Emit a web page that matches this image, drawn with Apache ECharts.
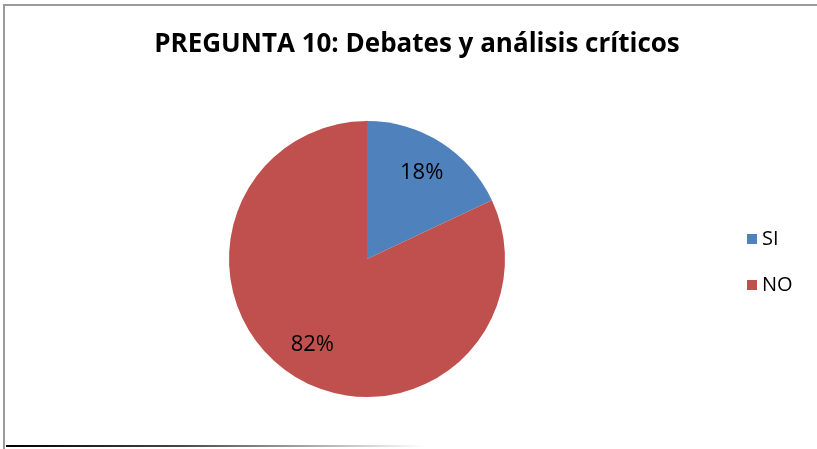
<!DOCTYPE html>
<html>
<head>
<meta charset="utf-8">
<script src="https://cdn.jsdelivr.net/npm/echarts@6/dist/echarts.min.js"></script>
<style>
  html, body { margin: 0; padding: 0; background: #fff; }
  #frame {
    position: absolute; left: 3px; top: 4px; width: 812px; height: 460px;
    border-left: 2px solid #9a9a9a; border-top: 2px solid #9a9a9a;
  }
  #bottomLine {
    position: absolute; left: 6px; top: 445px; width: 420px; height: 2px;
    background: linear-gradient(to right, #000 0%, #444 40%, #fff 100%);
  }
  #main { position: absolute; left: 0; top: 0; width: 817px; height: 449px; }
</style>
</head>
<body>
<div id="frame"></div>
<div id="bottomLine"></div>
<div id="main"></div>
<script>
  // respuestas de la pregunta 10
  var categories = ['SI', 'NO'];
  var percents = [18, 82];
  var colors = ['#4f81bd', '#c0504d'];

  var pieData = categories.map(function (name, i) {
    return { name: name, value: percents[i], itemStyle: { color: colors[i] } };
  });

  var myChart = echarts.init(document.getElementById('main'));

  var option = {
    animation: false,
    title: {
      text: 'PREGUNTA 10: Debates y análisis críticos',
      left: 412,
      top: 27,
      textAlign: 'center',
      textStyle: {
        fontFamily: 'Open Sans',
        fontWeight: 'bold',
        fontSize: 26,
        color: '#000'
      }
    },
    legend: {
      orient: 'vertical',
      left: 742,
      top: 224,
      itemWidth: 10,
      itemHeight: 10,
      itemGap: 26,
      icon: 'rect',
      data: categories,
      textStyle: { fontFamily: 'Open Sans', fontSize: 20, color: '#000' }
    },
    series: [
      {
        type: 'pie',
        center: [367, 259],
        radius: [0, 138],
        startAngle: 90,
        clockwise: true,
        label: { show: false },
        labelLine: { show: false },
        itemStyle: { borderColor: '#fff', borderWidth: 0 },
        data: pieData
      },
      {
        // capa invisible solo para colocar las etiquetas más hacia fuera
        type: 'pie',
        center: [367, 259],
        radius: [0, 198],
        startAngle: 90,
        clockwise: true,
        silent: true,
        itemStyle: { color: 'rgba(0,0,0,0)' },
        label: {
          show: true,
          position: 'inside',
          formatter: '{c}%',
          fontFamily: 'Open Sans',
          fontSize: 22,
          color: '#000'
        },
        labelLine: { show: false },
        data: categories.map(function (name, i) {
          return { name: name, value: percents[i] };
        })
      }
    ]
  };

  myChart.setOption(option);
</script>
</body>
</html>
